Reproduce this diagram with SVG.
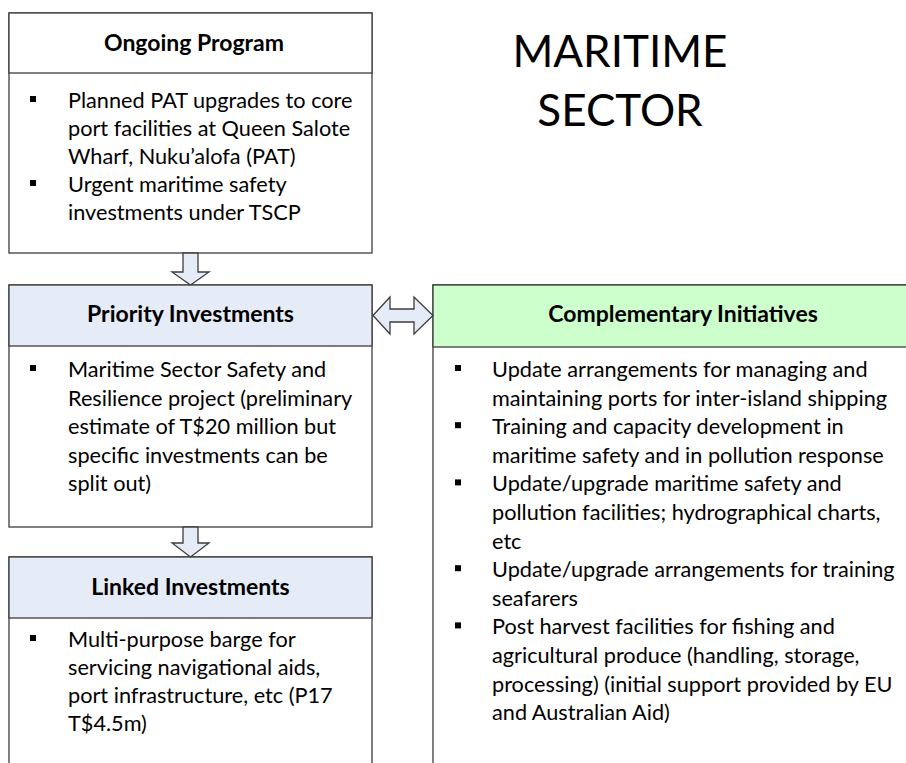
<svg xmlns="http://www.w3.org/2000/svg" width="906" height="763" viewBox="0 0 906 763">
<style>
.box{fill:#ffffff;stroke:#3c3c3c;stroke-width:1.3}
.hb{fill:#e6ecf7;stroke:#3c3c3c;stroke-width:1.3}
.hg{fill:#ccffcc;stroke:#3c3c3c;stroke-width:1.3}
.hw{fill:#ffffff;stroke:#3c3c3c;stroke-width:1.3}
.arr{fill:#e6ecf7;stroke:#3c3c3c;stroke-width:1.3;stroke-linejoin:miter}
.h{font-family:Lato,"Liberation Sans",sans-serif;font-weight:bold;font-size:23px;fill:#000;text-anchor:middle}
.t{font-family:Lato,"Liberation Sans",sans-serif;font-size:21.7px;fill:#000}
.ttl{font-family:Lato,"Liberation Sans",sans-serif;font-size:44px;fill:#000;text-anchor:middle}
.b{fill:#000}
</style>
<rect width="906" height="763" fill="#ffffff"/>

<g id="title">
<text class="ttl" x="620" y="67">MARITIME</text>
<text class="ttl" x="620" y="126">SECTOR</text>
</g>

<g id="ongoing">
<rect class="box" x="9" y="13" width="363" height="240"/>
<rect class="hw" x="9" y="13" width="363" height="60"/>
<text class="h" x="194" y="51">Ongoing Program</text>
<rect class="b" x="30" y="96" width="6" height="6"/>
<text class="t" x="68" y="108">Planned PAT upgrades to core</text>
<text class="t" x="68" y="136">port facilities at Queen Salote</text>
<text class="t" x="68" y="164">Wharf, Nuku’alofa (PAT)</text>
<rect class="b" x="30" y="180" width="6" height="6"/>
<text class="t" x="68" y="192">Urgent maritime safety</text>
<text class="t" x="68" y="220">investments under TSCP</text>
</g>

<g id="priority">
<rect class="box" x="9" y="285" width="363" height="242"/>
<rect class="hb" x="9" y="285" width="363" height="61"/>
<text class="h" x="190.5" y="322">Priority Investments</text>
<rect class="b" x="30" y="365" width="6" height="6"/>
<text class="t" x="68" y="377">Maritime Sector Safety and</text>
<text class="t" x="68" y="405.5">Resilience project (preliminary</text>
<text class="t" x="68" y="434">estimate of T$20 million but</text>
<text class="t" x="68" y="462.5">specific investments can be</text>
<text class="t" x="68" y="491">split out)</text>
</g>

<g id="linked">
<path class="box" d="M9,770 V557 H372 V770"/>
<rect class="hb" x="9" y="557" width="363" height="61"/>
<text class="h" x="190.5" y="595">Linked Investments</text>
<rect class="b" x="30" y="635" width="6" height="6"/>
<text class="t" x="68" y="647">Multi-purpose barge for</text>
<text class="t" x="68" y="675">servicing navigational aids,</text>
<text class="t" x="68" y="703">port infrastructure, etc (P17</text>
<text class="t" x="68" y="731">T$4.5m)</text>
</g>

<g id="complementary">
<path class="box" d="M433,770 V285 H940 V770"/>
<rect class="hg" x="433" y="285" width="507" height="62"/>
<text class="h" x="683" y="322">Complementary Initiatives</text>
<rect class="b" x="455" y="365" width="6" height="6"/>
<text class="t" x="492" y="377">Update arrangements for managing and</text>
<text class="t" x="492" y="405.6">maintaining ports for inter-island shipping</text>
<rect class="b" x="455" y="422.2" width="6" height="6"/>
<text class="t" x="492" y="434.2">Training and capacity development in</text>
<text class="t" x="492" y="462.8">maritime safety and in pollution response</text>
<rect class="b" x="455" y="479.4" width="6" height="6"/>
<text class="t" x="492" y="491.4">Update/upgrade maritime safety and</text>
<text class="t" x="492" y="520">pollution facilities; hydrographical charts,</text>
<text class="t" x="492" y="548.6">etc</text>
<rect class="b" x="455" y="565.2" width="6" height="6"/>
<text class="t" x="492" y="577.2">Update/upgrade arrangements for training</text>
<text class="t" x="492" y="605.8">seafarers</text>
<rect class="b" x="455" y="622.4" width="6" height="6"/>
<text class="t" x="492" y="634.4">Post harvest facilities for fishing and</text>
<text class="t" x="492" y="663">agricultural produce (handling, storage,</text>
<text class="t" x="492" y="691.6">processing) (initial support provided by EU</text>
<text class="t" x="492" y="720.2">and Australian Aid)</text>
</g>

<g id="connectors">
<path class="arr" d="M183,253 H198 V272 H209 L190.5,285 L172,272 H183 Z"/>
<path class="arr" d="M183,527 H198 V543 H209 L190.5,557 L172,543 H183 Z"/>
<path class="arr" d="M373,315.5 L390,297 V309 H414 V297 L433,315.5 L414,334 V322 H390 V334 Z"/>
</g>
</svg>
